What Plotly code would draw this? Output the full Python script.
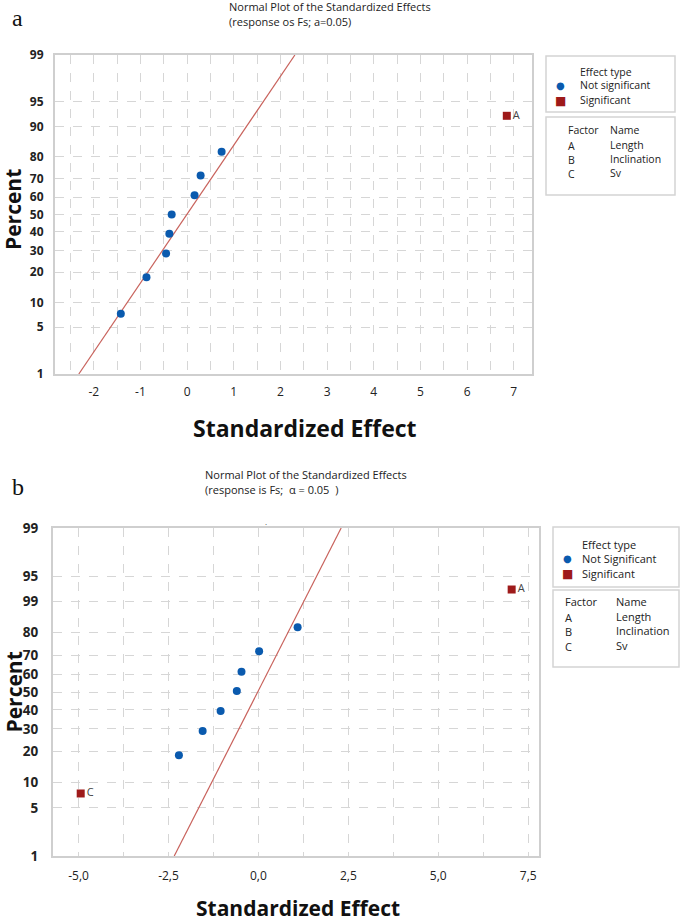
from statistics import NormalDist
import plotly.graph_objects as go

# ---------------- data ----------------
pct_ticks = [1, 5, 10, 20, 30, 40, 50, 60, 70, 80, 90, 95, 99]
a_pct_labels = ["1", "5", "10", "20", "30", "40", "50", "60", "70", "80", "90", "95", "99"]
b_pct_labels = ["1", "5", "10", "20", "30", "40", "50", "60", "70", "80", "99", "95", "99"]

a_x_ticks = [-2, -1, 0, 1, 2, 3, 4, 5, 6, 7]
a_x_labels = ["-2", "-1", "0", "1", "2", "3", "4", "5", "6", "7"]
b_x_ticks = [-5.0, -2.5, 0.0, 2.5, 5.0, 7.5]
b_x_labels = ["-5,0", "-2,5", "0,0", "2,5", "5,0", "7,5"]

# panel a
a_ns_effect = [-1.42, -0.87, -0.45, -0.38, -0.33, 0.16, 0.29, 0.74]
a_ns_pct = [7.4, 18.0, 28.5, 39.0, 50.0, 61.0, 71.5, 82.0]
a_sig_effect = [6.85]
a_sig_pct = [92.5]
a_sig_label = ["A"]
a_line_effect = [-2.32, 2.31]
a_line_pct = [1, 99]

# panel b
b_ns_effect = [-2.21, -1.55, -1.05, -0.60, -0.47, 0.02, 1.09]
b_ns_pct = [18.5, 29.0, 39.4, 50.5, 61.3, 71.8, 82.1]
b_sig_effect = [-4.94, 7.04]
b_sig_pct = [7.5, 92.7]
b_sig_label = ["C", "A"]
b_line_effect = [-2.34, 2.30]
b_line_pct = [1, 99]

factors = ["A", "B", "C"]
factor_names = ["Length", "Inclination", "Sv"]

# ---------------- helpers ----------------
nd = NormalDist()


def z(vals):
    return [nd.inv_cdf(v / 100.0) for v in vals]


W, H = 685, 922


def X(px):
    return px / W


def Y(py):
    return 1 - py / H


BLUE = "#0A5AAE"
RED = "#9E1A1A"
LINE = "#C8625C"
GRID = "#D6D6D6"
BORDER = "#CFCFCF"
FONT = "Open Sans"

fig = go.Figure()

# panel a traces
fig.add_trace(go.Scatter(x=a_line_effect, y=z(a_line_pct), mode="lines",
                         line=dict(color=LINE, width=1.2), xaxis="x", yaxis="y", showlegend=False))
fig.add_trace(go.Scatter(x=a_ns_effect, y=z(a_ns_pct), mode="markers",
                         marker=dict(color=BLUE, size=8, symbol="circle"),
                         xaxis="x", yaxis="y", showlegend=False))
fig.add_trace(go.Scatter(x=a_sig_effect, y=z(a_sig_pct), mode="markers+text", text=a_sig_label,
                         textposition="middle right", textfont=dict(family=FONT, size=11, color="#444"),
                         marker=dict(color=RED, size=8, symbol="square"),
                         xaxis="x", yaxis="y", showlegend=False))

# panel b traces
fig.add_trace(go.Scatter(x=b_line_effect, y=z(b_line_pct), mode="lines",
                         line=dict(color=LINE, width=1.2), xaxis="x2", yaxis="y2", showlegend=False))
fig.add_trace(go.Scatter(x=b_ns_effect, y=z(b_ns_pct), mode="markers",
                         marker=dict(color=BLUE, size=8, symbol="circle"),
                         xaxis="x2", yaxis="y2", showlegend=False))
fig.add_trace(go.Scatter(x=b_sig_effect, y=z(b_sig_pct), mode="markers+text", text=b_sig_label,
                         textposition="middle right", textfont=dict(family=FONT, size=11, color="#444"),
                         marker=dict(color=RED, size=8, symbol="square"),
                         xaxis="x2", yaxis="y2", showlegend=False))

ylo, yhi = nd.inv_cdf(0.01), nd.inv_cdf(0.99)

common_axis = dict(showline=True, linecolor=BORDER, linewidth=2, mirror=True,
                   showgrid=True, gridcolor=GRID, griddash="dash", gridwidth=1,
                   zeroline=False, ticks="", automargin=False)

fig.update_layout(
    width=W, height=H, autosize=False,
    margin=dict(l=0, r=0, t=0, b=0, pad=0),
    paper_bgcolor="white", plot_bgcolor="white",
    font=dict(family=FONT, color="#222"),
    xaxis=dict(domain=[X(55), X(532)], anchor="y", range=[-2.83, 7.39],
               tickvals=a_x_ticks, ticktext=a_x_labels,
               tickfont=dict(family=FONT, size=12, color="#222"), ticklabelstandoff=6,
               minor=dict(dtick=0.5, tick0=0, showgrid=True, gridcolor=GRID, griddash="dash"),
               **common_axis),
    yaxis=dict(domain=[Y(374), Y(55)], anchor="x", range=[ylo, yhi],
               tickvals=z(pct_ticks), ticktext=a_pct_labels,
               tickfont=dict(family=FONT, size=12, color="#222", weight="bold"), ticklabelstandoff=7,
               **common_axis),
    xaxis2=dict(domain=[X(53), X(539)], anchor="y2", range=[-5.71, 7.80],
                tickvals=b_x_ticks, ticktext=b_x_labels,
                tickfont=dict(family=FONT, size=12, color="#222"), ticklabelstandoff=8,
                minor=dict(dtick=1.25, tick0=0, showgrid=True, gridcolor=GRID, griddash="dash"),
                **common_axis),
    yaxis2=dict(domain=[Y(856), Y(528)], anchor="x2", range=[ylo, yhi],
                tickvals=z(pct_ticks), ticktext=b_pct_labels,
                tickfont=dict(family=FONT, size=13.5, color="#222", weight="bold"), ticklabelstandoff=10,
                **common_axis),
)

ann = []
shapes = []


def note(px, py, text, font, xanchor="left", **kw):
    ann.append(dict(x=X(px), y=Y(py), xref="paper", yref="paper", text=text, showarrow=False,
                    xanchor=xanchor, yanchor="middle", font=font, **kw))


# panel labels
note(10, 18, "a", dict(family="Liberation Serif", size=24, color="#111"))
note(10, 487, "b", dict(family="Liberation Serif", size=24, color="#111"))

# titles
tf = dict(family=FONT, size=11, color="#222")
note(227, 7, "Normal Plot of the Standardized Effects", tf)
note(227, 21.5, "(response os Fs; a=0.05)", tf)
note(203, 475, "Normal Plot of the Standardized Effects", tf)
note(203, 489, "(response is Fs;  \u03b1 = 0.05  )", tf)
note(266, 521, ".", dict(family=FONT, size=8, color="#444"), xanchor="center")

# axis titles
for (px, py, fs) in [(13, 210, 21), (13.5, 692, 21)]:
    note(px, py, "Percent", dict(family=FONT, size=fs, color="#111", weight="bold"),
         xanchor="center", textangle=-90)
for (px, py, fs) in [(305, 428, 23), (298, 908, 21)]:
    note(px, py, "Standardized Effect", dict(family=FONT, size=fs, color="#111", weight="bold"),
         xanchor="center")


def legend(box1, box2, tx, mx, y_et, y_ns, y_s, ns_text, fx, nx, y_f, rows, fsize):
    for b in (box1, box2):
        shapes.append(dict(type="rect", xref="paper", yref="paper",
                           x0=X(b[0]), x1=X(b[1]), y0=Y(b[3]), y1=Y(b[2]),
                           line=dict(color="#D4D4D4", width=1.5), fillcolor="rgba(0,0,0,0)"))
    f = dict(family=FONT, size=fsize, color="#222")
    for txt, yy in [("Effect type", y_et), (ns_text, y_ns), ("Significant", y_s)]:
        note(tx, yy, txt, f)
    note(mx, y_ns, "\u25cf", dict(family="DejaVu Sans", size=10, color=BLUE), xanchor="center")
    note(mx, y_s + 1, "\u25a0", dict(family="DejaVu Sans", size=12, color=RED), xanchor="center")
    note(fx, y_f, "Factor", f)
    note(nx, y_f, "Name", f)
    for fac, nm, yy in zip(factors, factor_names, rows):
        note(fx, yy, fac, f)
        note(nx, yy - 1, nm, f)


legend((546, 675, 56, 112), (546, 675, 117, 195), 578, 560, 72, 85, 100, "Not significant",
       566, 608, 130, [146, 160, 174], 10.5)
legend((553, 679, 527, 587), (553, 679, 590, 667), 580, 567, 544, 558, 573, "Not Significant",
       563, 614, 601, [617, 631, 646], 11)

fig.update_layout(annotations=ann, shapes=shapes)

fig.write_html("out.html", config={"displayModeBar": False},
               post_script="document.body.style.margin='0px';")
